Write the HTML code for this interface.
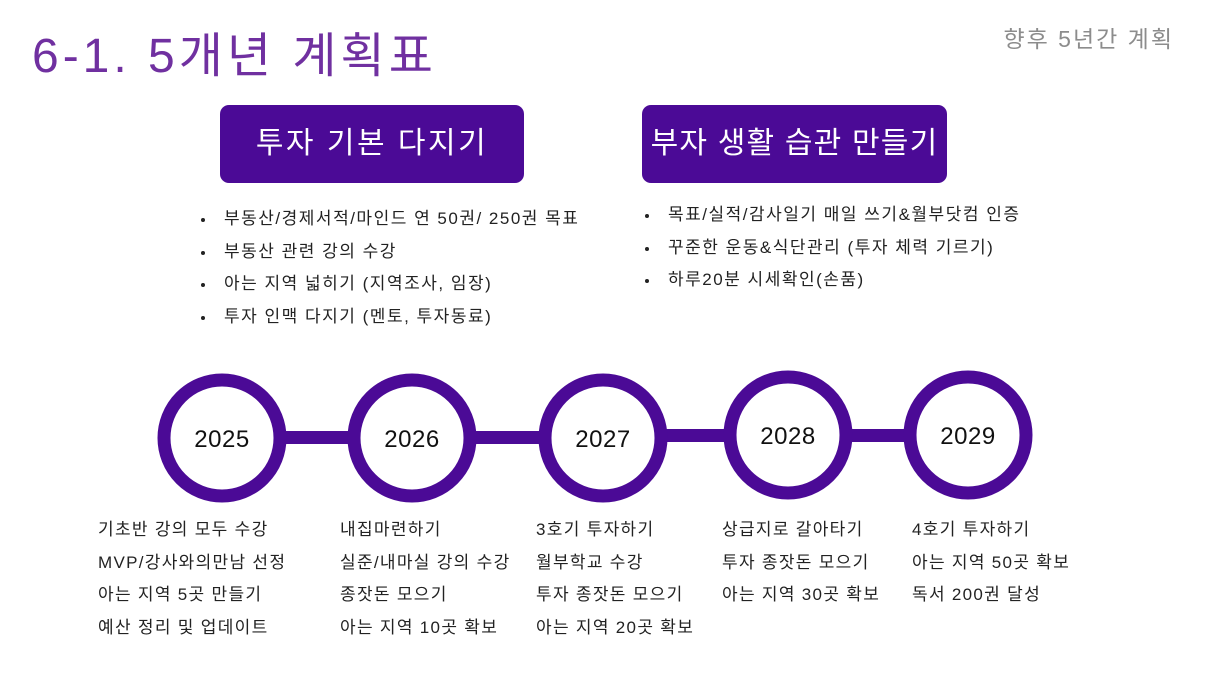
<!DOCTYPE html>
<html><head><meta charset="utf-8"><style>
body{margin:0;width:1216px;height:684px;background:#fff;position:relative;overflow:hidden;font-family:"Liberation Sans","Noto Sans CJK KR",sans-serif;}
.a{position:absolute;white-space:nowrap}
.title{left:32px;top:16px;font-size:48px;color:#7030a0;letter-spacing:4px}
.sub{right:42px;top:20px;font-size:23px;color:#8c8c8c;letter-spacing:2px}
.box{position:absolute;top:105px;height:78px;width:304px;background:#4b0a96;border-radius:9px;color:#fff;font-size:30px;text-align:center;line-height:78px;letter-spacing:2.5px}
ul{position:absolute;margin:0;padding:0 0 0 25px;font-size:17px;color:#222;line-height:32.5px;letter-spacing:1.5px;list-style:none}
li{position:relative}
li:before{content:"";position:absolute;left:-23px;top:15px;width:4px;height:4px;border-radius:50%;background:#222}
.col{position:absolute;top:514px;font-size:17px;color:#222;line-height:32.5px;white-space:nowrap;letter-spacing:1.3px}
</style></head><body>
<div class="a title">6-1. 5개년 계획표</div>
<div class="a sub">향후 5년간 계획</div>
<div class="box" style="left:220px">투자 기본 다지기</div>
<div class="box" style="left:642px;width:305px;letter-spacing:1.2px">부자 생활 습관 만들기</div>
<ul style="left:199px;top:203px"><li>부동산/경제서적/마인드 연 50권/ 250권 목표</li><li>부동산 관련 강의 수강</li><li>아는 지역 넓히기 (지역조사, 임장)</li><li>투자 인맥 다지기 (멘토, 투자동료)</li></ul>
<ul style="left:643px;top:199px"><li>목표/실적/감사일기 매일 쓰기&amp;월부닷컴 인증</li><li>꾸준한 운동&amp;식단관리 (투자 체력 기르기)</li><li>하루20분 시세확인(손품)</li></ul>
<svg class="a" style="left:0;top:0" width="1216" height="684">
<g fill="#4b0a96"><rect x="280" y="431" width="90" height="13"/><rect x="470" y="431" width="80" height="13"/><rect x="660" y="429" width="70" height="13"/><rect x="845" y="429" width="70" height="13"/></g>
<g fill="#fff" stroke="#4b0a96" stroke-width="13">
<circle cx="222" cy="438" r="58"/><circle cx="412" cy="438" r="58"/><circle cx="603" cy="438" r="58"/><circle cx="788" cy="435" r="58"/><circle cx="968" cy="435" r="58"/></g>
<g font-family="Liberation Sans, sans-serif" font-size="24" fill="#111" text-anchor="middle" letter-spacing="0.5">
<text x="222" y="447">2025</text><text x="412" y="447">2026</text><text x="603" y="447">2027</text><text x="788" y="444">2028</text><text x="968" y="444">2029</text></g>
</svg>
<div class="col" style="left:98px">기초반 강의 모두 수강<br>MVP/강사와의만남 선정<br>아는 지역 5곳 만들기<br>예산 정리 및 업데이트</div>
<div class="col" style="left:340px">내집마련하기<br>실준/내마실 강의 수강<br>종잣돈 모으기<br>아는 지역 10곳 확보</div>
<div class="col" style="left:536px">3호기 투자하기<br>월부학교 수강<br>투자 종잣돈 모으기<br>아는 지역 20곳 확보</div>
<div class="col" style="left:722px">상급지로 갈아타기<br>투자 종잣돈 모으기<br>아는 지역 30곳 확보</div>
<div class="col" style="left:912px">4호기 투자하기<br>아는 지역 50곳 확보<br>독서 200권 달성</div>
</body></html>
